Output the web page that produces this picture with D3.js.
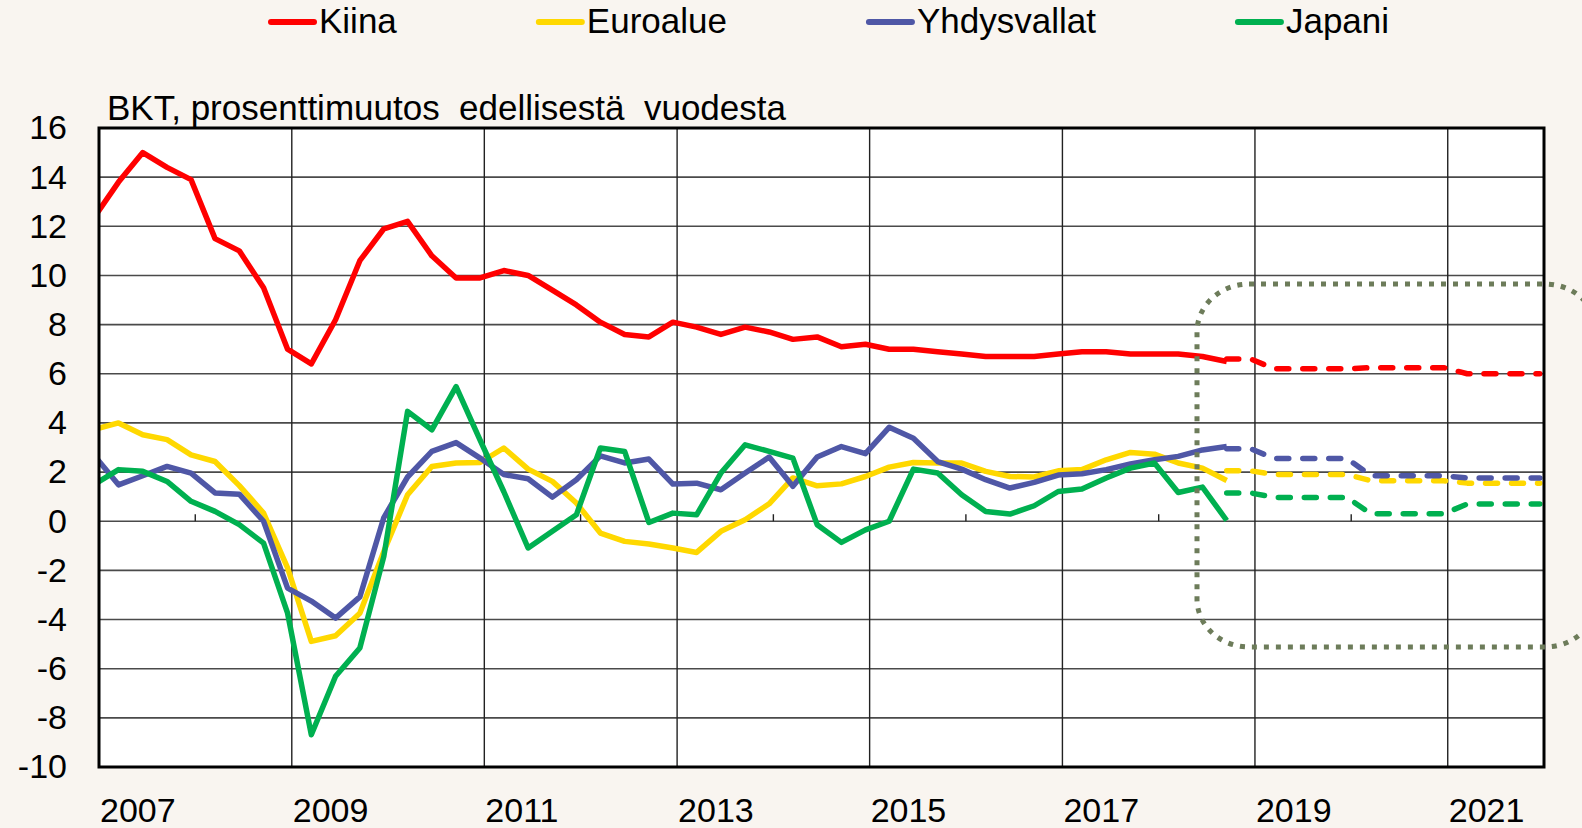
<!DOCTYPE html>
<html>
<head>
<meta charset="utf-8">
<script src="https://cdn.jsdelivr.net/npm/d3@7"></script>
<style>
  html, body { margin: 0; padding: 0; background: #f9f5f0; }
  svg { display: block; font-family: "Liberation Sans", Arial, sans-serif; }
</style>
</head>
<body>
<div id="chart"></div>
<script>
// quarterly data, y/y % change
var quarters = [
  "2006Q4",
  "2007Q1","2007Q2","2007Q3","2007Q4","2008Q1","2008Q2","2008Q3","2008Q4",
  "2009Q1","2009Q2","2009Q3","2009Q4","2010Q1","2010Q2","2010Q3","2010Q4",
  "2011Q1","2011Q2","2011Q3","2011Q4","2012Q1","2012Q2","2012Q3","2012Q4",
  "2013Q1","2013Q2","2013Q3","2013Q4","2014Q1","2014Q2","2014Q3","2014Q4",
  "2015Q1","2015Q2","2015Q3","2015Q4","2016Q1","2016Q2","2016Q3","2016Q4",
  "2017Q1","2017Q2","2017Q3","2017Q4","2018Q1","2018Q2","2018Q3"
];
var kiina = [12.4,
  13.8, 15.0, 14.4, 13.9, 11.5, 11.0, 9.5, 7.0,
  6.4, 8.2, 10.6, 11.9, 12.2, 10.8, 9.9, 9.9,
  10.2, 10.0, 9.4, 8.8, 8.1, 7.6, 7.5, 8.1,
  7.9, 7.6, 7.9, 7.7, 7.4, 7.5, 7.1, 7.2,
  7.0, 7.0, 6.9, 6.8, 6.7, 6.7, 6.7, 6.8,
  6.9, 6.9, 6.8, 6.8, 6.8, 6.7, 6.5];
var euroalue = [3.74,
  4.0, 3.52, 3.32, 2.7, 2.43, 1.45, 0.33, -1.9,
  -4.89, -4.66, -3.74, -1.23, 1.08, 2.23, 2.37, 2.39,
  2.98, 2.12, 1.62, 0.74, -0.48, -0.82, -0.93, -1.09,
  -1.27, -0.41, 0.06, 0.71, 1.76, 1.44, 1.52, 1.82,
  2.2, 2.39, 2.37, 2.37, 2.03, 1.82, 1.8, 2.05,
  2.1, 2.5, 2.8, 2.73, 2.37, 2.16, 1.66];
var yhdysvallat = [2.65,
  1.48, 1.85, 2.23, 1.96, 1.15, 1.1, 0.0, -2.72,
  -3.25, -3.94, -3.08, 0.15, 1.8, 2.84, 3.2, 2.57,
  1.9, 1.73, 0.98, 1.69, 2.66, 2.37, 2.53, 1.51,
  1.55, 1.28, 1.96, 2.61, 1.42, 2.61, 3.04, 2.75,
  3.82, 3.38, 2.43, 2.12, 1.69, 1.35, 1.58, 1.88,
  1.93, 2.1, 2.33, 2.5, 2.64, 2.9, 3.04];
var japani = [1.51,
  2.1, 2.03, 1.62, 0.81, 0.4, -0.14, -0.89, -3.74,
  -8.69, -6.31, -5.16, -1.43, 4.47, 3.72, 5.48, 3.3,
  1.2, -1.09, -0.41, 0.26, 2.98, 2.84, -0.05, 0.33,
  0.26, 1.96, 3.11, 2.84, 2.57, -0.14, -0.86, -0.35,
  0.0, 2.12, 1.96, 1.08, 0.4, 0.29, 0.63, 1.21,
  1.31, 1.76, 2.16, 2.37, 1.17, 1.39, 0.03];

// forecasts (dashed)
var fcQuarters = ["2018Q3","2018Q4",
  "2019Q1","2019Q2","2019Q3","2019Q4","2020Q1","2020Q2","2020Q3","2020Q4",
  "2021Q1","2021Q2","2021Q3","2021Q4"];
var kiinaFc       = [6.6, 6.6, 6.2, 6.2, 6.2, 6.2, 6.25, 6.25, 6.25, 6.25, 6.0, 6.0, 6.0, 6.0];
var euroalueFc    = [2.05, 2.05, 1.9, 1.9, 1.9, 1.9, 1.65, 1.65, 1.65, 1.65, 1.55, 1.55, 1.55, 1.55];
var yhdysvallatFc = [2.95, 2.95, 2.55, 2.55, 2.55, 2.55, 1.85, 1.85, 1.85, 1.85, 1.76, 1.76, 1.76, 1.76];
var japaniFc      = [1.15, 1.15, 0.97, 0.97, 0.97, 0.97, 0.3, 0.3, 0.3, 0.3, 0.7, 0.7, 0.7, 0.7];

var yTicks = [-10,-8,-6,-4,-2,0,2,4,6,8,10,12,14,16];
var xLabels = ["2007","2009","2011","2013","2015","2017","2019","2021"];
var gridYears = [2009,2011,2013,2015,2017,2019,2021];
var minorYears = [2008,2010,2012,2014,2016,2018,2020];

var seriesNames = ["Kiina","Euroalue","Yhdysvallat","Japani"];
var colors = ["#ff0000","#ffd800","#4f57a6","#00b050"];

var width = 1582, height = 828;
var pL = 99, pR = 1544, pT = 128, pB = 767;

var svg = d3.select("#chart").append("svg")
    .attr("width", width)
    .attr("height", height);

svg.append("rect").attr("width", width).attr("height", height).attr("fill", "#f9f5f0");

var x = d3.scaleTime()
    .domain([new Date(2007,0,1), new Date(2022,0,1)])
    .range([pL, pR]);
var y = d3.scaleLinear().domain([-10,16]).range([pB, pT]);

// quarter -> date near the middle of the quarter's last month
function qDate(s) {
  var yr = +s.slice(0,4), q = +s.slice(5);
  return new Date(yr, 3*q - 1, 16);
}

svg.append("defs").append("clipPath").attr("id","plotclip")
  .append("rect").attr("x", pL).attr("y", pT)
  .attr("width", pR-pL).attr("height", pB-pT);

// plot background
svg.append("rect")
    .attr("x", pL).attr("y", pT)
    .attr("width", pR-pL).attr("height", pB-pT)
    .attr("fill", "#ffffff");

// horizontal grid
svg.append("g").selectAll("line")
  .data(yTicks.filter(function(d){ return d > -10 && d < 16; }))
  .enter().append("line")
    .attr("x1", pL).attr("x2", pR)
    .attr("y1", function(d){ return y(d); }).attr("y2", function(d){ return y(d); })
    .attr("stroke", "#4a4a4a").attr("stroke-width", 1.6);

// vertical grid
svg.append("g").selectAll("line")
  .data(gridYears)
  .enter().append("line")
    .attr("x1", function(d){ return x(new Date(d,0,1)); })
    .attr("x2", function(d){ return x(new Date(d,0,1)); })
    .attr("y1", pT).attr("y2", pB)
    .attr("stroke", "#222").attr("stroke-width", 1.4);

// small ticks on the zero line
svg.append("g").selectAll("line")
  .data(minorYears)
  .enter().append("line")
    .attr("x1", function(d){ return x(new Date(d,0,1)); })
    .attr("x2", function(d){ return x(new Date(d,0,1)); })
    .attr("y1", y(0)).attr("y2", y(0) - 7)
    .attr("stroke", "#222").attr("stroke-width", 1.4);

// y labels (plain hyphen for negatives, like the original)
var yAxis = svg.append("g")
    .attr("transform", "translate(" + pL + ",0)")
    .call(d3.axisLeft(y).tickValues(yTicks).tickSize(0).tickPadding(32)
      .tickFormat(function(d){ return String(d); }));
yAxis.select(".domain").remove();
yAxis.selectAll("text").attr("font-size", 34).attr("fill", "#000")
    .attr("font-family", "Liberation Sans, Arial, sans-serif");

// x labels
svg.append("g").selectAll("text")
  .data(xLabels)
  .enter().append("text")
    .attr("x", function(d){ return x(new Date(+d,0,1)) + 1; })
    .attr("y", 822)
    .attr("font-size", 34)
    .attr("text-anchor", "start")
    .text(function(d){ return d; });

// title
svg.append("text")
    .attr("x", 107).attr("y", 120)
    .attr("font-size", 35)
    .style("white-space", "pre")
    .text("BKT, prosenttimuutos  edellisestä  vuodesta");

var line = d3.line()
    .x(function(d){ return x(qDate(d[0])); })
    .y(function(d){ return y(d[1]); });

var hist = [kiina, euroalue, yhdysvallat, japani];
var fc = [kiinaFc, euroalueFc, yhdysvallatFc, japaniFc];

var plot = svg.append("g").attr("clip-path", "url(#plotclip)");

hist.forEach(function(vals, i) {
  plot.append("path")
    .datum(d3.zip(quarters, vals))
    .attr("d", line)
    .attr("fill", "none")
    .attr("stroke", colors[i])
    .attr("stroke-width", 5.5)
    .attr("stroke-linejoin", "round");
});
fc.forEach(function(vals, i) {
  plot.append("path")
    .datum(d3.zip(fcQuarters, vals))
    .attr("d", line)
    .attr("fill", "none")
    .attr("stroke", colors[i])
    .attr("stroke-width", 5.5)
    .attr("stroke-linecap", "round")
    .attr("stroke-linejoin", "round")
    .attr("stroke-dasharray", "12,14");
});

// frame
svg.append("rect")
    .attr("x", pL).attr("y", pT)
    .attr("width", pR-pL).attr("height", pB-pT)
    .attr("fill", "none").attr("stroke", "#000").attr("stroke-width", 3);

// dotted highlight around the forecast
svg.append("rect")
    .attr("x", 1197).attr("y", 284)
    .attr("width", 400).attr("height", 363)
    .attr("rx", 52).attr("ry", 48)
    .attr("fill", "none")
    .attr("stroke", "#6d7c5a")
    .attr("stroke-width", 5)
    .attr("stroke-dasharray", "5,7");

// legend
var lx = 268;
seriesNames.forEach(function(name, i) {
  var g = svg.append("g");
  g.append("line")
    .attr("x1", lx + 3).attr("x2", lx + 46)
    .attr("y1", 22).attr("y2", 22)
    .attr("stroke", colors[i]).attr("stroke-width", 6)
    .attr("stroke-linecap", "round");
  var t = g.append("text")
    .attr("x", lx + 51).attr("y", 33)
    .attr("font-size", 35)
    .text(name);
  lx = lx + 51 + t.node().getComputedTextLength() + 139;
});
</script>
</body>
</html>
